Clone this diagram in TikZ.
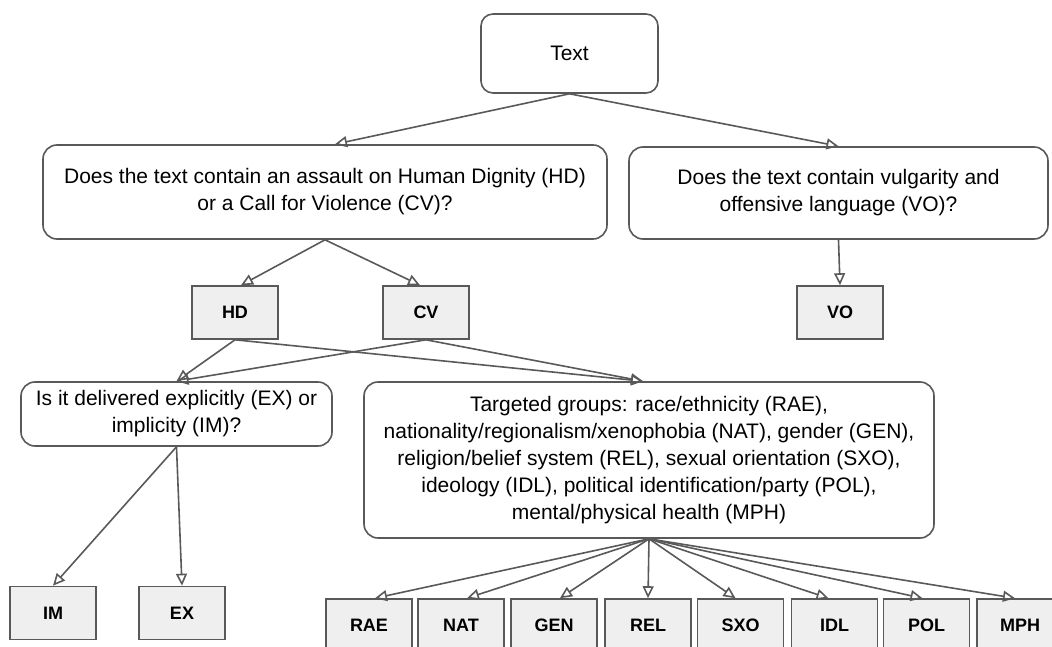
\documentclass[tikz,border=0pt]{standalone}
\usepackage{fontspec}
\setmainfont{Liberation Sans}
\usetikzlibrary{arrows.meta}
\definecolor{linegray}{HTML}{595959}
\definecolor{boxgray}{HTML}{EFEFEF}

\begin{document}
\begin{tikzpicture}[x=1pt, y=-1pt, line width=1.6pt,
    >={Triangle[open,length=12pt,width=11pt]},
    link/.style={draw=linegray, ->},
    ask/.style={draw=linegray, fill=white, text=black, rounded corners=14pt,
      inner sep=0pt, align=center, font=\fontsize{21}{27}\selectfont},
    tag/.style={draw=linegray, fill=boxgray, text=black, inner sep=0pt,
      minimum width=86pt, minimum height=53pt, font=\fontsize{18}{20}\selectfont\bfseries}]
      \useasboundingbox (0,0) rectangle (1052,647);
      \clip (0,0) rectangle (1052,647);
      \node[ask, minimum width=177pt, minimum height=79pt, rounded corners=12pt] (a) at (569.5, 53.5) {Text};
      \node[ask, minimum width=564pt, minimum height=94pt] (b) at (325, 192) {Does the text contain an assault on Human Dignity (HD)\\or a Call for Violence (CV)?};
      \node[ask, minimum width=419pt, minimum height=92pt] (c) at (838.5, 193) {Does the text contain vulgarity and\\offensive language (VO)?};
      \node[tag] (d) at (235, 312.5) {HD};
      \node[tag] (e) at (426, 312.5) {CV};
      \node[tag] (f) at (840, 312.5) {VO};
      \node[ask, minimum width=311pt, minimum height=64pt] (g) at (176.5, 414) {Is it delivered explicitly (EX) or\\implicity (IM)?};
      \node[ask, minimum width=570pt, minimum height=156pt] (h) at (649, 460) {Targeted groups: race/ethnicity (RAE),\\nationality/regionalism/xenophobia (NAT), gender (GEN),\\religion/belief system (REL), sexual orientation (SXO),\\ideology (IDL), political identification/party (POL),\\mental/physical health (MPH)};
      \node[tag] (i) at (53, 613) {IM};
      \node[tag] (j) at (182, 613) {EX};
      \node[tag] (k) at (369, 625.5) {RAE};
      \node[tag] (l) at (461, 625.5) {NAT};
      \node[tag] (m) at (554, 625.5) {GEN};
      \node[tag] (n) at (648, 625.5) {REL};
      \node[tag] (o) at (740.5, 625.5) {SXO};
      \node[tag] (p) at (834.5, 625.5) {IDL};
      \node[tag] (q) at (926.5, 625.5) {POL};
      \node[tag] (r) at (1020, 625.5) {MPH};
      \draw [link] (a.south) to ([xshift=10pt]b.north);
      \draw [link] (a.south) to (c.north);
      \draw [link] (b.south) to ([xshift=6pt]d.north);
      \draw [link] (b.south) to ([xshift=-6pt]e.north);
      \draw [link] (c.south) to (f.north);
      \draw [link] (d.south) to (g.north);
      \draw [link] (e.south) to (g.north);
      \draw [link] (d.south) to ([xshift=-6pt]h.north);
      \draw [link] (e.south) to ([xshift=-6pt]h.north);
      \draw [link] (g.south) to (i.north);
      \draw [link] (g.south) to (j.north);
      \draw [link] (h.south) to ([xshift=6pt]k.north);
      \draw [link] (h.south) to ([xshift=6pt]l.north);
      \draw [link] (h.south) to ([xshift=6pt]m.north);
      \draw [link] (h.south) to (n.north);
      \draw [link] (h.south) to ([xshift=-5pt]o.north);
      \draw [link] (h.south) to ([xshift=-6pt]p.north);
      \draw [link] (h.south) to ([xshift=-4pt]q.north);
      \draw [link] (h.south) to ([xshift=-5pt]r.north);
    \end{tikzpicture}
\end{document}
